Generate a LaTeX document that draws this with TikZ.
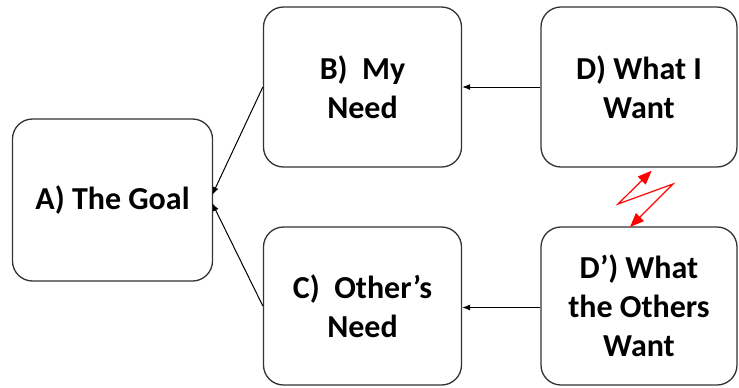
\documentclass[tikz,border=0pt]{standalone}
\usepackage{fontspec}
\setmainfont{Carlito}
\usetikzlibrary{arrows.meta,positioning,calc}
\tikzset{
block/.style = {draw=black!80, line width=0.65pt, fill=white, rectangle, rounded corners=10pt,
  minimum height=80pt, minimum width=99pt, align=center,
  font=\bfseries\fontsize{16}{19.5}\selectfont},
link/.style = {->, line width=0.5pt, black},
zap/.style = {{Triangle[length=7pt,width=5.5pt]}-{Triangle[length=7pt,width=5.5pt]}, red, line width=0.6pt}
}
\begin{document}
\begin{tikzpicture}[x=0.5pt, y=-0.5pt, node distance=2.5cm, >={Latex[length=4pt,width=3pt]}]
					\useasboundingbox (0,0) rectangle (739,387);
					\node[block, minimum height=81pt, minimum width=100pt] (goal) at (112.5,200) {A) The Goal};
					\node[block] (myneed) at (362.5,87) {B)\ \ My\\Need};
					\node[block, right of=myneed, node distance=138.25pt, minimum width=98pt] (iwant) {D) What I\\Want};
					\node[block, below of=myneed, node distance=109.5pt, minimum height=79pt] (othneed) {C)\ \ Other’s\\Need};
					\node[block, below of=iwant, node distance=109.5pt, minimum width=98pt, minimum height=79pt] (othwant) {D’) What\\the Others\\Want};
					% conflict between the two wants
					\coordinate (z1) at (651.7,170.7);
					\coordinate (z2) at (618,204);
					\coordinate (z3) at (673,184);
					\coordinate (z4) at (630,227);
					\draw[link] (myneed.west) -- ($(goal.east)+(-1,-5)$);
					\draw[link] (othneed.west) -- ($(goal.east)+(-1,3)$);
					\draw[link] (iwant.west) -- (myneed.east);
					\draw[link] ($(othwant.west)+(0,1.5)$) -- ($(othneed.east)+(0,1.5)$);
					\draw[zap] (z1) -- (z2) -- (z3) -- (z4);
				\end{tikzpicture}
\end{document}
